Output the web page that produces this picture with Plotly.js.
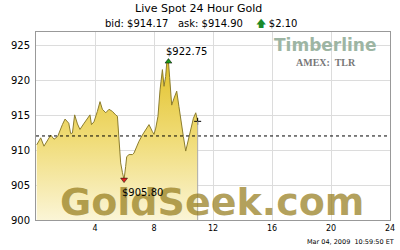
<!DOCTYPE html>
<html><head><meta charset="utf-8">
<script src="https://cdn.plot.ly/plotly-3.0.1.min.js"></script>
<style>html,body{margin:0;padding:0;background:#fff}#c{width:400px;height:250px}</style>
</head><body><div id="c"></div>
<script>
const hours = [0.05,0.32,0.54,0.73,1.0,1.22,1.47,1.79,1.97,2.22,2.35,2.47,2.62,2.81,2.98,3.23,3.53,3.66,3.76,3.93,4.16,4.34,4.5,4.73,4.95,5.18,5.4,5.52,5.63,5.74,5.86,5.97,6.08,6.15,6.31,6.54,6.64,6.83,6.98,7.21,7.44,7.66,7.89,8.0,8.12,8.27,8.41,8.57,8.68,8.79,8.86,8.98,9.06,9.13,9.2,9.36,9.54,9.69,9.81,9.99,10.15,10.31,10.49,10.67,10.83,10.96];
const prices = [910.8,911.8,910.6,911.3,912.2,911.6,912.0,913.7,914.5,913.9,912.4,912.5,915.1,913.8,913.0,913.8,914.7,915.1,913.7,914.1,915.6,917.0,915.9,915.4,915.9,915.6,915.1,914.9,911.5,908.2,906.8,905.8,907.7,909.1,909.4,909.4,909.6,910.6,911.3,912.2,913.0,913.7,912.7,912.3,913.2,914.9,918.7,921.6,919.2,920.6,922.5,922.75,920.5,918.7,916.5,917.5,918.5,916.3,914.4,912.0,909.9,911.3,913.0,914.6,915.4,914.17];
const bid = 914.17, ask = 914.90, change = 2.10;
const prevClose = bid - change;
const xTicks = [4,8,12,16,20,24];
const yTicks = [900,905,910,915,920,925];

const hiIdx = prices.indexOf(Math.max(...prices));
const loIdx = prices.indexOf(Math.min(...prices));
const last = prices.length-1;
const F = 'DejaVu Sans, Verdana, sans-serif';

const traces = [
 {x:hours, y:prices, type:'scatter', mode:'lines', fill:'tozeroy',
  line:{color:'#8c7d2e', width:1},
  fillgradient:{type:'vertical', start:900, stop:923, colorscale:[[0,'#fbf5d6'],[0.5,'#f0dc78'],[1,'#e2c22a']]},
  hoverinfo:'skip'},
 {x:[hours[hiIdx]], y:[prices[hiIdx]], type:'scatter', mode:'markers',
  marker:{symbol:'triangle-up', size:6, color:'#1a9a1a', line:{color:'#000',width:0.5}}},
 {x:[hours[loIdx]], y:[prices[loIdx]], type:'scatter', mode:'markers',
  marker:{symbol:'triangle-down', size:6, color:'#e02020', line:{color:'#000',width:0.5}}},
 {x:[hours[last]], y:[prices[last]], type:'scatter', mode:'markers',
  marker:{symbol:'cross-thin', size:5, color:'#000', line:{color:'#000',width:1}}}
];

const layout = {
 width:400, height:250, margin:{l:36,r:10,t:32,b:30},
 paper_bgcolor:'#fff', plot_bgcolor:'#fff', showlegend:false,
 xaxis:{range:[0,24], tickvals:xTicks, ticktext:xTicks.map(String), showgrid:true, gridcolor:'#dcdcdc',
   zeroline:false, showline:true, linecolor:'#999', mirror:true, ticks:'', ticklabelstandoff:0, tickfont:{family:F,size:8,color:'#000'}},
 yaxis:{range:[900,927], tickvals:yTicks, ticktext:yTicks.map(String), showgrid:true, gridcolor:'#dcdcdc',
   zeroline:false, showline:true, linecolor:'#999', mirror:true, ticks:'', ticklabelstandoff:3, tickfont:{family:F,size:10,color:'#000'}},
 shapes:[
  {type:'line', xref:'x', yref:'y', x0:0, x1:24, y0:prevClose, y1:prevClose, line:{color:'#000', width:1, dash:'3px,3px'}},
  {type:'line', xref:'x', yref:'y', x0:hours[last], x1:hours[last], y0:900, y1:prices[last], line:{color:'#aaa', width:1}}
 ],
 annotations:[
  {xref:'paper', yref:'paper', x:0.459, y:1, yshift:24, xanchor:'center', yanchor:'middle', text:'Live Spot 24 Hour Gold', showarrow:false, font:{family:F,size:11,color:'#000'}},
  {xref:'paper', yref:'paper', x:0.4675, y:1, yshift:9, xanchor:'center', yanchor:'middle', text:'bid: $'+bid.toFixed(2)+'   ask: $'+ask.toFixed(2)+'    <span style="color:#1a8a2a">&#129093;</span> $'+change.toFixed(2), showarrow:false, font:{family:F,size:10,color:'#000'}},
  {xref:'paper', yref:'paper', x:0.496, y:0, yshift:-6, xanchor:'center', yanchor:'bottom', text:'<b>GoldSeek.com</b>', showarrow:false, font:{family:F,size:38,color:'rgba(150,125,30,0.72)'}},
  {xref:'paper', yref:'paper', x:0.819, y:0.93, xanchor:'center', yanchor:'middle', text:'<b>Timberline</b>', showarrow:false, font:{family:F,size:17,color:'#9db5a3'}},
  {xref:'paper', yref:'paper', x:0.818, y:0.84, xanchor:'center', yanchor:'middle', text:'<b>AMEX:  TLR</b>', showarrow:false, font:{family:'Liberation Serif, serif',size:10,color:'#777'}},
  {xref:'x', yref:'y', x:hours[hiIdx], y:prices[hiIdx], xanchor:'left', yanchor:'bottom', xshift:-4, yshift:3, text:'$'+prices[hiIdx].toFixed(2), showarrow:false, font:{family:F,size:10,color:'#000'}},
  {xref:'x', yref:'y', x:hours[loIdx], y:prices[loIdx], xanchor:'left', yanchor:'top', xshift:-4, yshift:-5, text:'$'+prices[loIdx].toFixed(2), showarrow:false, font:{family:F,size:10,color:'#000'}},
  {xref:'paper', yref:'paper', x:1.017, y:0, yshift:-16, xanchor:'right', yanchor:'top', text:'Mar 04, 2009  10:59:50 ET', showarrow:false, font:{family:F,size:6.5,color:'#000'}}
 ]
};
Plotly.newPlot('c', traces, layout, {staticPlot:true, displayModeBar:false});
</script></body></html>
